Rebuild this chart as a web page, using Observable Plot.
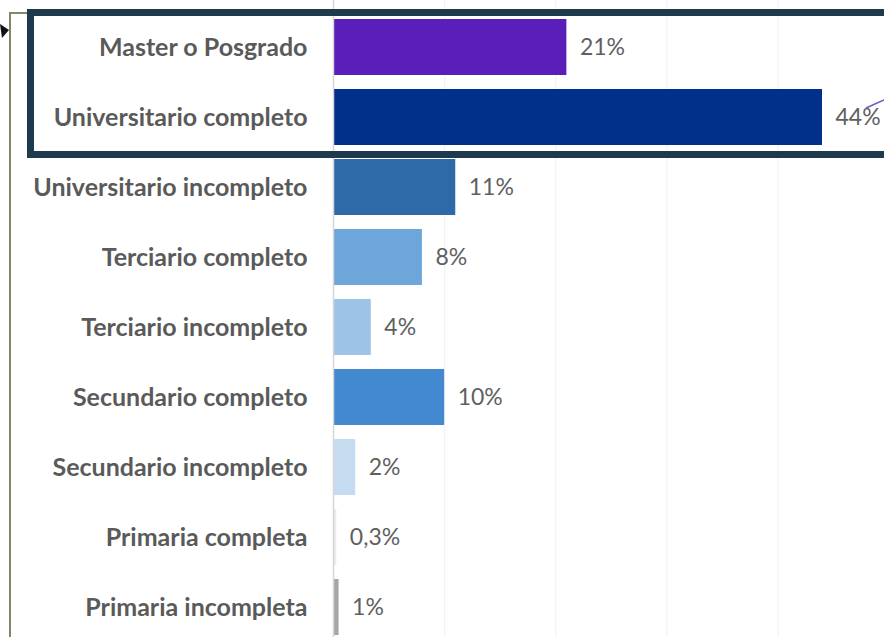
<!DOCTYPE html>
<html>
<head>
<meta charset="utf-8">
<script src="https://cdn.jsdelivr.net/npm/d3@7"></script>
<script src="https://cdn.jsdelivr.net/npm/@observablehq/plot@0.6"></script>
<style>
  html, body { margin: 0; padding: 0; background: #fff; }
  #wrap { position: relative; width: 884px; height: 637px; overflow: hidden; background: #fff; }
  #wrap svg { display: block; }
  #wrap g[aria-label^="y-axis"] text { font-family: Lato, "Open Sans", sans-serif; font-weight: bold; font-size: 25px; fill: #5a5a5a; }
  #box { position: absolute; left: 27px; top: 9px; width: 880px; height: 135px; border: 7px solid #1f3a4d; box-sizing: content-box; pointer-events: none; }
  #leftline { position: absolute; left: 9px; top: 12px; width: 2px; height: 625px; background: #7d8a6a; }
  #topline { position: absolute; left: 9px; top: 12px; width: 20px; height: 2px; background: #7d8a6a; }
  #deco { position: absolute; left: 0; top: 0; pointer-events: none; }
</style>
</head>
<body>
<div id="wrap"></div>
<script>
const categories = [
  "Master o Posgrado",
  "Universitario completo",
  "Universitario incompleto",
  "Terciario completo",
  "Terciario incompleto",
  "Secundario completo",
  "Secundario incompleto",
  "Primaria completa",
  "Primaria incompleta"
];
const values = [21, 44, 11, 8, 3.4, 10, 2, 0.3, 0.5];
const valueLabels = ["21%", "44%", "11%", "8%", "4%", "10%", "2%", "0,3%", "1%"];
const barColors = ["#5a1fb8", "#00308a", "#2e6aa8", "#6ea6dc", "#9dc3e6", "#4289d0", "#c5dcf0", "#ececec", "#a6a6a6"];
const gridTicks = [10, 20, 30, 40];

const data = categories.map((c, i) => ({cat: c, value: values[i], label: valueLabels[i], color: barColors[i]}));

const chart = Plot.plot({
  width: 884,
  height: 637,
  marginLeft: 333,
  marginRight: 0,
  marginTop: 0,
  marginBottom: 0,
  style: {fontFamily: "Lato, 'Open Sans', sans-serif", background: "transparent"},
  x: {domain: [0, 44], range: [333, 822], axis: null},
  y: {domain: categories, range: [5, 649], padding: 0.2, round: false, tickSize: 0, tickPadding: 26, label: null},
  color: {type: "identity"},
  marks: [
    Plot.ruleX(gridTicks, {stroke: "#f0f0f0", strokeWidth: 1}),
    Plot.barX(data, {x: "value", y: "cat", fill: "color"}),
    Plot.ruleX([0], {stroke: "#d6d6d6", strokeWidth: 1.5}),
    Plot.text(data, {x: "value", y: "cat", text: "label", textAnchor: "start", dx: 13, fontSize: 23, fill: "#5f5f5f"})
  ]
});
const wrap = document.getElementById("wrap");
wrap.appendChild(chart);

const leftline = document.createElement("div"); leftline.id = "leftline"; wrap.appendChild(leftline);
const topline = document.createElement("div"); topline.id = "topline"; wrap.appendChild(topline);
const box = document.createElement("div"); box.id = "box"; wrap.appendChild(box);

const ns = "http://www.w3.org/2000/svg";
const deco = document.createElementNS(ns, "svg");
deco.setAttribute("id", "deco");
deco.setAttribute("width", 884);
deco.setAttribute("height", 637);
deco.innerHTML = '<polygon points="0,24 9,30 2,38" fill="#111"/>' +
  '<line x1="866" y1="108" x2="884" y2="100" stroke="#6a5acd" stroke-width="1.5"/>';
wrap.appendChild(deco);
</script>
</body>
</html>
